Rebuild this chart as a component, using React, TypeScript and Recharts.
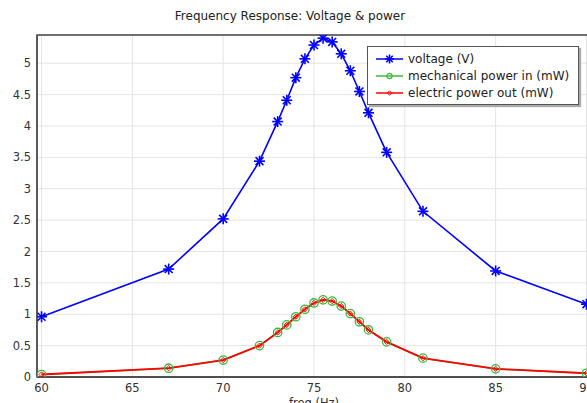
import { LineChart, Line, XAxis, YAxis, CartesianGrid, ReferenceArea, Label } from "recharts";

// sweep frequencies (Hz)
const freq = [60, 67, 70, 72, 73, 73.5, 74, 74.5, 75, 75.5, 76, 76.5, 77, 77.5, 78, 79, 81, 85, 90];
// voltage (V)
const voltage = [0.96, 1.72, 2.52, 3.44, 4.07, 4.41, 4.77, 5.07, 5.29, 5.4, 5.34, 5.15, 4.88, 4.55, 4.21, 3.58, 2.64, 1.69, 1.16];
// mechanical power in (mW)
const mechPower = [0.04, 0.14, 0.27, 0.5, 0.71, 0.83, 0.96, 1.08, 1.18, 1.23, 1.21, 1.13, 1.01, 0.88, 0.75, 0.56, 0.3, 0.13, 0.06];
// electric power out (mW)
const elecPower = [0.04, 0.14, 0.27, 0.5, 0.71, 0.83, 0.96, 1.08, 1.18, 1.23, 1.21, 1.13, 1.01, 0.88, 0.75, 0.56, 0.3, 0.13, 0.06];

const xTicks = [60, 65, 70, 75, 80, 85, 90];
const yTicks = [0, 0.5, 1, 1.5, 2, 2.5, 3, 3.5, 4, 4.5, 5];

const data = freq.map((f, i) => ({
  freq: f,
  voltage: voltage[i],
  mech: mechPower[i],
  elec: elecPower[i],
}));

const FONT = "'DejaVu Sans', Verdana, sans-serif";
const BLUE = "#0000ff";
const GREEN = "#3cb83c";
const RED = "#ff0000";
const AXIS = "#444";

function star(cx: number, cy: number, r = 5.5) {
  const d = r * 0.72;
  return (
    <g stroke={BLUE} strokeWidth={1.6}>
      <line x1={cx - r} y1={cy} x2={cx + r} y2={cy} />
      <line x1={cx} y1={cy - r} x2={cx} y2={cy + r} />
      <line x1={cx - d} y1={cy - d} x2={cx + d} y2={cy + d} />
      <line x1={cx - d} y1={cy + d} x2={cx + d} y2={cy - d} />
    </g>
  );
}

function diamond(cx: number, cy: number, r = 2.6) {
  return (
    <polygon
      points={`${cx},${cy - r} ${cx + r},${cy} ${cx},${cy + r} ${cx - r},${cy}`}
      fill="none"
      stroke={RED}
      strokeWidth={1}
    />
  );
}

const StarDot = (p: any) => (p.cx == null ? <g key={p.key} /> : <g key={p.key}>{star(p.cx, p.cy)}</g>);
const CircleDot = (p: any) =>
  p.cx == null ? <g key={p.key} /> : <circle key={p.key} cx={p.cx} cy={p.cy} r={4.2} fill="none" stroke={GREEN} strokeWidth={1.3} />;
const DiamondDot = (p: any) => (p.cx == null ? <g key={p.key} /> : <g key={p.key}>{diamond(p.cx, p.cy)}</g>);

const legendItems = [
  { label: "voltage (V)", color: BLUE, marker: "star" },
  { label: "mechanical power in (mW)", color: GREEN, marker: "circle" },
  { label: "electric power out (mW)", color: RED, marker: "diamond" },
];

function LegendBox() {
  return (
    <div
      style={{
        position: "absolute",
        left: 367,
        top: 46,
        width: 212,
        height: 59,
        background: "#fff",
        border: "1px solid #555",
        boxShadow: "2px 2px 1px #aaa",
        fontFamily: FONT,
        fontSize: 12,
        color: "#222",
        boxSizing: "border-box",
        paddingTop: 3,
      }}
    >
      {legendItems.map((it) => (
        <div key={it.label} style={{ display: "flex", alignItems: "center", height: 17 }}>
          <svg width={40} height={14} style={{ flex: "none" }}>
            <line x1={8} y1={7} x2={35} y2={7} stroke={it.color} strokeWidth={1.5} />
            {it.marker === "star" && star(21.5, 7, 4.5)}
            {it.marker === "circle" && <circle cx={21.5} cy={7} r={2.6} fill="none" stroke={GREEN} strokeWidth={1.2} />}
            {it.marker === "diamond" && diamond(21.5, 7, 2.2)}
          </svg>
          <span style={{ whiteSpace: "nowrap" }}>{it.label}</span>
        </div>
      ))}
    </div>
  );
}

export default function App() {
  return (
    <div
      style={{
        position: "fixed",
        left: 0,
        top: 0,
        width: 587,
        height: 403,
        overflow: "hidden",
        background: "#fff",
        fontFamily: FONT,
      }}
    >
      <div
        style={{
          position: "absolute",
          left: 0,
          top: 9,
          width: 580,
          textAlign: "center",
          fontSize: 12,
          color: "#222",
        }}
      >
        Frequency Response: Voltage &amp; power
      </div>
      <LineChart width={600} height={403} data={data} margin={{ top: 35, right: 9, bottom: 0, left: 0 }}>
        <CartesianGrid stroke="#e4e4e4" strokeWidth={1} />
        <XAxis
          dataKey="freq"
          type="number"
          domain={[59.75, 90.25]}
          ticks={xTicks}
          allowDataOverflow
          height={26}
          tickSize={0}
          tickMargin={7}
          stroke={AXIS}
          strokeWidth={1.3}
          tick={{ fontSize: 11.5, fill: "#333", fontFamily: FONT }}
        >
          <Label value="freq (Hz)" position="insideBottom" offset={-4} style={{ fontSize: 11.5, fill: "#333", fontFamily: FONT }} />
        </XAxis>
        <YAxis
          type="number"
          domain={[0, 5.45]}
          ticks={yTicks}
          allowDataOverflow
          width={37}
          tickSize={0}
          tickMargin={6}
          stroke={AXIS}
          strokeWidth={1.3}
          tick={{ fontSize: 11.5, fill: "#333", fontFamily: FONT }}
        />
        <ReferenceArea x1={59.75} x2={90.25} y1={0} y2={5.45} fill="none" stroke={AXIS} strokeWidth={1.3} />
        <Line
          dataKey="mech"
          stroke={GREEN}
          strokeWidth={1.5}
          dot={CircleDot}
          isAnimationActive={false}
        />
        <Line dataKey="elec" stroke={RED} strokeWidth={1.8} dot={DiamondDot} isAnimationActive={false} />
        <Line dataKey="voltage" stroke={BLUE} strokeWidth={1.6} dot={StarDot} isAnimationActive={false} />
      </LineChart>
      <LegendBox />
    </div>
  );
}
